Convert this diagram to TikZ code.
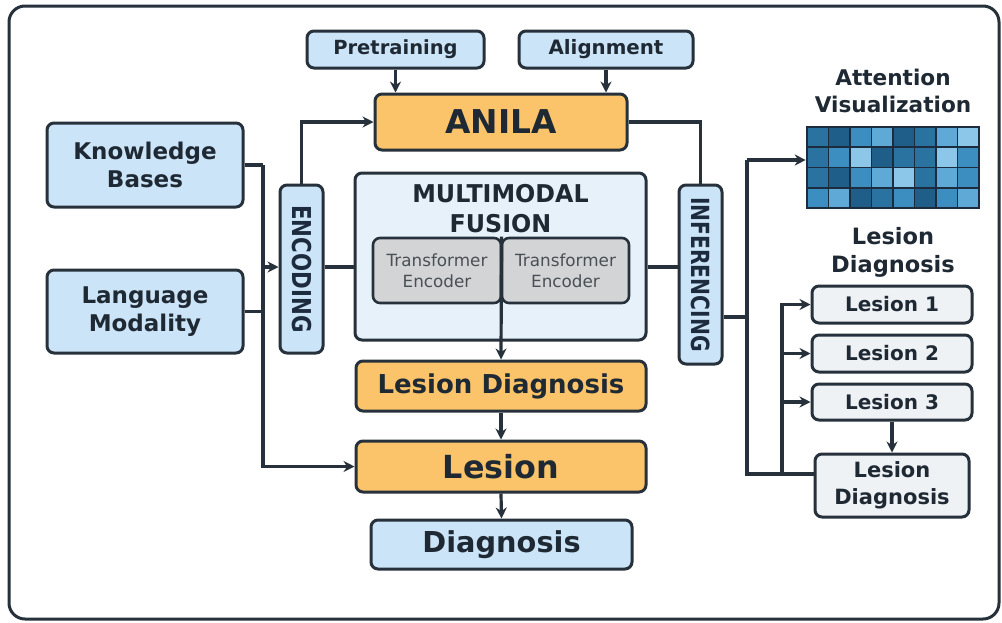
\documentclass[tikz,border=0pt]{standalone}
\usepackage{fontspec}
\usepackage{graphicx}
\setmainfont{DejaVu Sans}
\usetikzlibrary{arrows.meta,calc}
\definecolor{lc}{HTML}{27313B}
\definecolor{tc}{HTML}{1E2934}
\definecolor{bl}{HTML}{CCE4F7}
\definecolor{orng}{HTML}{FBC46A}
\definecolor{gry}{HTML}{D3D4D5}
\definecolor{gtxt}{HTML}{4A4F55}
\definecolor{mmf}{HTML}{E7F1FA}
\definecolor{lgr}{HTML}{EFF2F5}
\definecolor{navy}{HTML}{1C2B3D}
\definecolor{h1}{HTML}{1F5E88}
\definecolor{h2}{HTML}{2A72A0}
\definecolor{h3}{HTML}{3C8DC0}
\definecolor{h4}{HTML}{5EA9D6}
\definecolor{h5}{HTML}{8CC6E8}
\newcommand{\fsz}[2]{\fontsize{#1}{#2}\selectfont}
\tikzset{
  box/.style={draw=lc, line width=3pt, rounded corners=7pt, inner sep=0pt, text=tc, align=center, font=\bfseries},
  bluebox/.style={box, fill=bl},
  orbox/.style={box, fill=orng},
  graybox/.style={box, fill=gry, font=\mdseries, text=gtxt, line width=2.6pt},
  lgbox/.style={box, fill=lgr},
  conn/.style={draw=lc, line width=3.2pt},
  arr/.style={conn, -{Stealth[length=11pt,width=11pt]}},
  title/.style={text=tc, align=center, font=\bfseries, inner sep=0pt}
}
\begin{document}
\begin{tikzpicture}[x=1pt,y=-1pt]
\useasboundingbox (0,0) rectangle (1002,622);
\fill[white] (0,0) rectangle (1002,622);
\draw[lc, line width=3pt, rounded corners=16pt] (9,6) rectangle (999,619);

% top inputs
\node[bluebox, minimum width=177pt, minimum height=37pt, font=\bfseries\fsz{19.5}{24}] (pre) at (395.5,49.5) {Pretraining};
\node[bluebox, minimum width=174pt, minimum height=37pt, font=\bfseries\fsz{19.8}{24}] (ali) at (606,49.5) {Alignment};
\node[orbox, minimum width=252pt, minimum height=56pt, font=\bfseries\fsz{32.8}{38}] (anila) at (501,122) {ANILA};

% left inputs
\node[bluebox, minimum width=196pt, minimum height=84pt, font=\bfseries\fsz{23}{28}] (kb) at (145,165) {Knowledge\\Bases};
\node[bluebox, minimum width=196pt, minimum height=83pt, font=\bfseries\fsz{23}{28}] (lm) at (145,311.5) {Language\\Modality};

% encoding
\node[bluebox, minimum width=43pt, minimum height=168pt] (enc) at (301.5,269) {};
\node[title, rotate=-90, font=\bfseries\fsz{26}{28}, text=navy] (enclbl) at (enc.center) {\scalebox{0.82}[1]{ENCODING}};

% multimodal fusion
\node[box, fill=mmf, minimum width=291pt, minimum height=167pt] (mm) at (500.5,256.5) {};
\node[title, font=\bfseries\fsz{24.5}{30}] (mmt) at (500.5,209) {\scalebox{0.97}[1]{MULTIMODAL}\\\scalebox{0.97}[1]{FUSION}};
\node[graybox, minimum width=128pt, minimum height=65pt, font=\fsz{16.8}{21.5}] (te1) at (437,270.5) {Transformer\\Encoder};
\node[graybox, minimum width=127pt, minimum height=65pt, font=\fsz{16.8}{21.5}] (te2) at (565.5,270.5) {Transformer\\Encoder};
\coordinate (jt) at ($(te1.north east)!0.5!(te2.north west)$);

% inferencing
\node[bluebox, minimum width=43pt, minimum height=179pt] (inf) at (700.5,274.5) {};
\node[title, rotate=-90, font=\bfseries\fsz{25}{28}, text=navy] (inflbl) at (inf.center) {\scalebox{0.81}[1]{INFERENCING}};

% center column
\node[orbox, minimum width=290pt, minimum height=50pt, font=\bfseries\fsz{26}{30}] (ld) at (501,386) {Lesion Diagnosis};
\node[orbox, minimum width=290pt, minimum height=51pt, font=\bfseries\fsz{31.8}{36}] (les) at (501,466.5) {Lesion};
\node[bluebox, minimum width=261pt, minimum height=49pt, font=\bfseries\fsz{28.8}{34}] (dia) at (501.5,544.5) {Diagnosis};

% attention visualization
\node[title, font=\bfseries\fsz{21.6}{27}] (att) at (893,91) {Attention\\Visualization};
\foreach \r/\row in {0/{h2,h1,h3,h4,h1,h2,h4,h5},1/{h2,h3,h5,h1,h2,h2,h5,h3},2/{h2,h1,h3,h4,h5,h2,h4,h3},3/{h3,h4,h1,h2,h3,h1,h3,h4}}{
  \foreach \c [count=\i from 0] in \row {
    \fill[\c] (807+\i*21.5,127+\r*20.25) rectangle ++(21.5,20.25);
  }
}
\foreach \i in {1,...,7} \draw[navy, line width=1.6pt] (807+\i*21.5,127) -- ++(0,81);
\foreach \r in {1,2,3} \draw[navy, line width=1.6pt] (807,127+\r*20.25) -- ++(172,0);
\node[draw=navy, line width=2.6pt, minimum width=172pt, minimum height=81pt, inner sep=0pt] (heat) at (893,167.5) {};
\coordinate (hw) at ([yshift=7.5pt]heat.west);

% lesion diagnosis list
\node[title, font=\bfseries\fsz{22.5}{28}] (ldt) at (893,252) {Lesion\\Diagnosis};
\node[lgbox, minimum width=160pt, minimum height=37pt, font=\bfseries\fsz{20}{24}] (l1) at (892,304.5) {Lesion 1};
\node[lgbox, minimum width=160pt, minimum height=37pt, font=\bfseries\fsz{20}{24}] (l2) at (892,353.5) {Lesion 2};
\node[lgbox, minimum width=160pt, minimum height=36pt, font=\bfseries\fsz{20}{24}] (l3) at (892,402) {Lesion 3};
\node[lgbox, minimum width=154pt, minimum height=63pt, font=\bfseries\fsz{21}{27}] (ldr) at (892,485.5) {Lesion\\Diagnosis};
\coordinate (lw) at ([yshift=11.5pt]ldr.west);
\coordinate (io) at ([yshift=-42.5pt]inf.east);

% connectors
\draw[arr] (pre.south) -- (pre.south |- anila.north);
\draw[arr] (ali.south) -- (ali.south |- anila.north);

\coordinate (jx) at (263,165);
\coordinate (ey) at ([yshift=2pt]enc.west);
\draw[conn] (kb.east) -- (jx);
\draw[conn] (lm.east) -- (lm.east -| jx);
\draw[arr] (jx) -- (jx |- les.west) -- (les.west);
\draw[arr] (jx |- ey) -- (ey);
\draw[arr] (enc.north) -- (enc.north |- anila.west) -- (anila.west);
\draw[conn] (ey -| enc.east) -- (ey -| mm.west);
\draw[conn] (ey -| mm.east) -- (ey -| inf.west);
\draw[conn] (anila.east) -- (anila.east -| inf.north) -- (inf.north);
\draw[arr] (jt) -- (ld.north);
\draw[arr] (ld.south) -- (les.north);
\draw[arr] (les.south) -- (dia.north);

\coordinate (tr) at (747,317);
\coordinate (tb) at (782,474);
\draw[conn] (io) -- (tr);
\draw[arr] (tr |- hw) -- (hw);
\draw[conn] (tr |- hw) -- (tr |- lw) -- (lw);
\draw[arr] (tb) -- (tb |- l1.west) -- (l1.west);
\draw[arr] (tb |- l2.west) -- (l2.west);
\draw[arr] (tb |- l3.west) -- (l3.west);
\draw[arr] (l3.south) -- (ldr.north);
\end{tikzpicture}
\end{document}
